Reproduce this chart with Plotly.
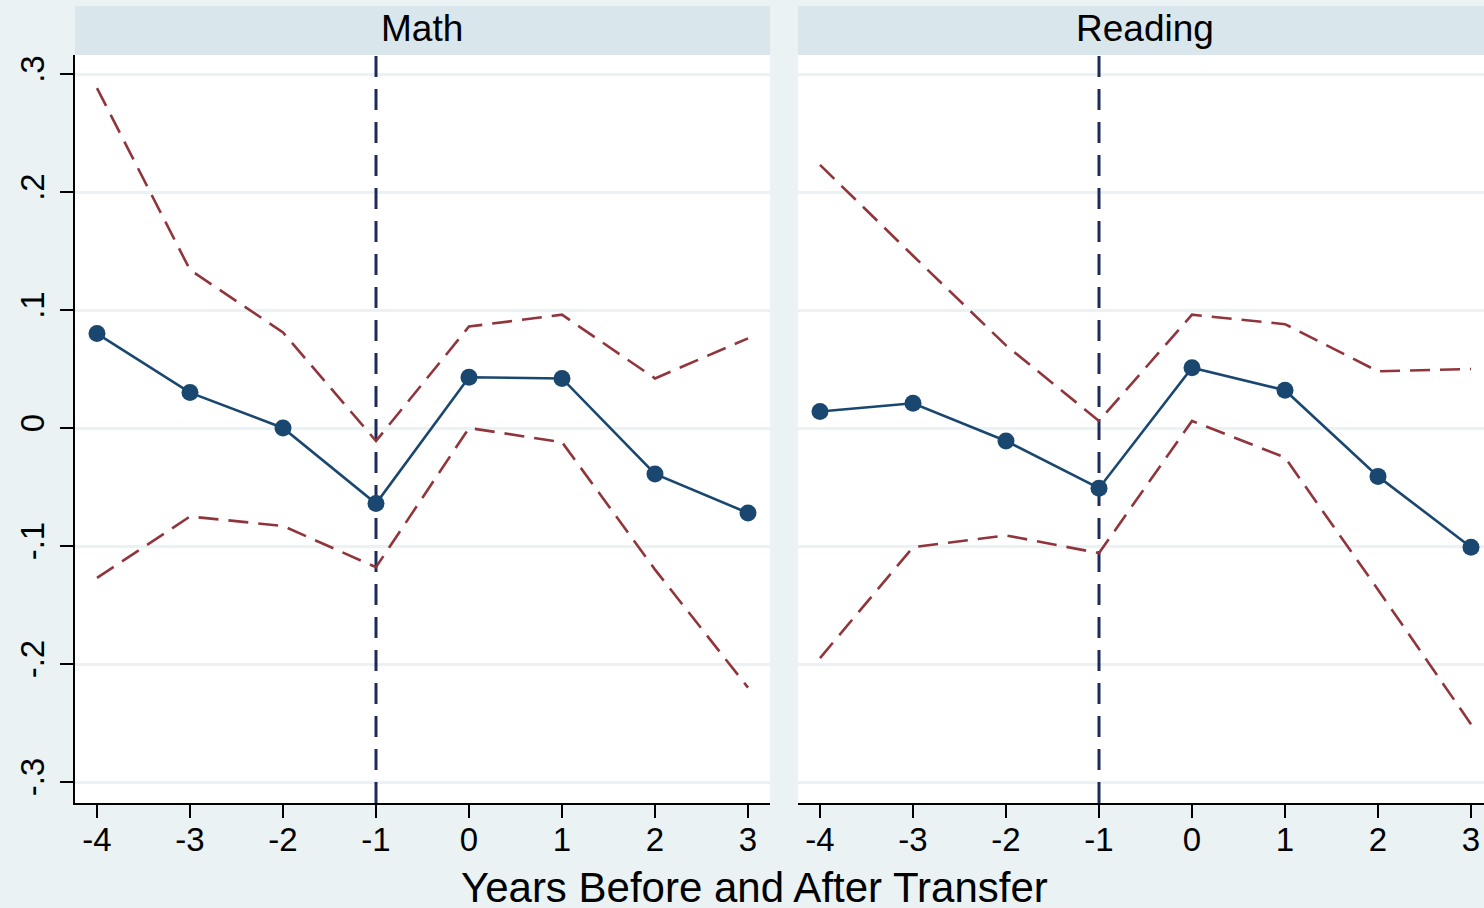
import plotly.graph_objects as go

years = [-4, -3, -2, -1, 0, 1, 2, 3]

math_est = [0.080, 0.030, 0.000, -0.064, 0.043, 0.042, -0.039, -0.072]
math_hi = [0.288, 0.134, 0.081, -0.011, 0.086, 0.096, 0.042, 0.076]
math_lo = [-0.127, -0.075, -0.083, -0.118, 0.000, -0.012, -0.120, -0.220]

read_est = [0.014, 0.021, -0.011, -0.051, 0.051, 0.032, -0.041, -0.101]
read_hi = [0.223, 0.146, 0.070, 0.006, 0.096, 0.088, 0.048, 0.050]
read_lo = [-0.195, -0.101, -0.091, -0.106, 0.006, -0.025, -0.137, -0.251]

event_year = -1
panels = ["Math", "Reading"]
y_ticks = [-0.3, -0.2, -0.1, 0, 0.1, 0.2, 0.3]
y_tick_text = ["-.3", "-.2", "-.1", "0", ".1", ".2", ".3"]
x_title = "Years Before and After Transfer"

NAVY = "#1A476F"
MAROON = "#90353B"
VLINE = "#1C2B5A"
BG = "#EAF2F3"
STRIP = "#D9E6EB"
FONT = "Liberation Sans, Arial, sans-serif"

W, H = 1484, 908

def px_x(p):
    return p / W

def px_y(p):
    return (H - p) / H

yrange = [(428 - 803) / 1180, (428 - 55) / 1180]
xr1 = [-4 + (75 - 97) / 93, -4 + (770 - 97) / 93]
xr2 = [-4 + (798 - 820) / 93, -4 + (1484 - 820) / 93]

fig = go.Figure()

series = [(math_est, math_hi, math_lo, "x", "y"), (read_est, read_hi, read_lo, "x2", "y2")]
for est, hi, lo, xa, ya in series:
    fig.add_trace(go.Scatter(x=[event_year, event_year], y=yrange, mode="lines",
                             xaxis=xa, yaxis=ya,
                             line=dict(color=VLINE, width=3, dash="21px,12px"),
                             showlegend=False, hoverinfo="skip"))
    for ci in (hi, lo):
        fig.add_trace(go.Scatter(x=years, y=ci, mode="lines", xaxis=xa, yaxis=ya,
                                 line=dict(color=MAROON, width=2.6, dash="20px,10px"),
                                 showlegend=False, hoverinfo="skip"))
    fig.add_trace(go.Scatter(x=years, y=est, mode="lines+markers", xaxis=xa, yaxis=ya,
                             line=dict(color=NAVY, width=2.6),
                             marker=dict(color=NAVY, size=17),
                             showlegend=False, cliponaxis=False))

ydom = [px_y(803), px_y(55)]
common_x = dict(tickvals=years, ticktext=[str(v) for v in years], ticks="outside",
                ticklen=13, tickwidth=2, tickcolor="black", showline=True,
                linecolor="black", linewidth=2, showgrid=False, zeroline=False,
                ticklabelstandoff=-7,
                tickfont=dict(family=FONT, size=33, color="black"), automargin=False)
fig.update_layout(
    xaxis=dict(domain=[px_x(75), px_x(770)], range=xr1, anchor="y", **common_x),
    xaxis2=dict(domain=[px_x(798), 1.0], range=xr2, anchor="y2", **common_x),
    yaxis=dict(domain=ydom, range=yrange, anchor="x", tickvals=y_ticks, ticktext=y_tick_text,
               ticks="outside", ticklen=13, tickwidth=2, tickcolor="black",
               showline=True, linecolor="black", linewidth=2,
               showgrid=True, gridcolor=BG, gridwidth=2.5, zeroline=False,
               tickangle=-90, ticklabelstandoff=3,
               tickfont=dict(family=FONT, size=33, color="black"),
               automargin=False),
    yaxis2=dict(domain=ydom, range=yrange, anchor="x2", tickvals=y_ticks,
                showticklabels=False, ticks="", showline=False,
                showgrid=True, gridcolor=BG, gridwidth=2.5, zeroline=False,
                automargin=False),
    width=W, height=H,
    margin=dict(l=0, r=0, t=0, b=0),
    paper_bgcolor=BG, plot_bgcolor="white",
    showlegend=False,
)

shapes = []
annotations = []
strips = [(75, 770), (798, 1484)]
for (x0, x1), name in zip(strips, panels):
    shapes.append(dict(type="rect", xref="paper", yref="paper",
                       x0=px_x(x0), x1=px_x(x1), y0=px_y(55), y1=px_y(6),
                       fillcolor=STRIP, line=dict(width=0), layer="below"))
    annotations.append(dict(text=name, xref="paper", yref="paper",
                            x=px_x((x0 + x1) / 2 + (4 if name == "Reading" else 0)), y=px_y(28),
                            xanchor="center", yanchor="middle", showarrow=False,
                            font=dict(family=FONT, size=37, color="black")))

annotations.append(dict(text=x_title, xref="paper", yref="paper", x=px_x(754), y=px_y(887),
                        xanchor="center", yanchor="middle", showarrow=False,
                        font=dict(family=FONT, size=42, color="black")))

fig.update_layout(shapes=shapes, annotations=annotations)
fig.write_html("out.html", config={"displayModeBar": False},
               post_script="document.body.style.margin='0px';document.body.style.overflow='hidden';")
